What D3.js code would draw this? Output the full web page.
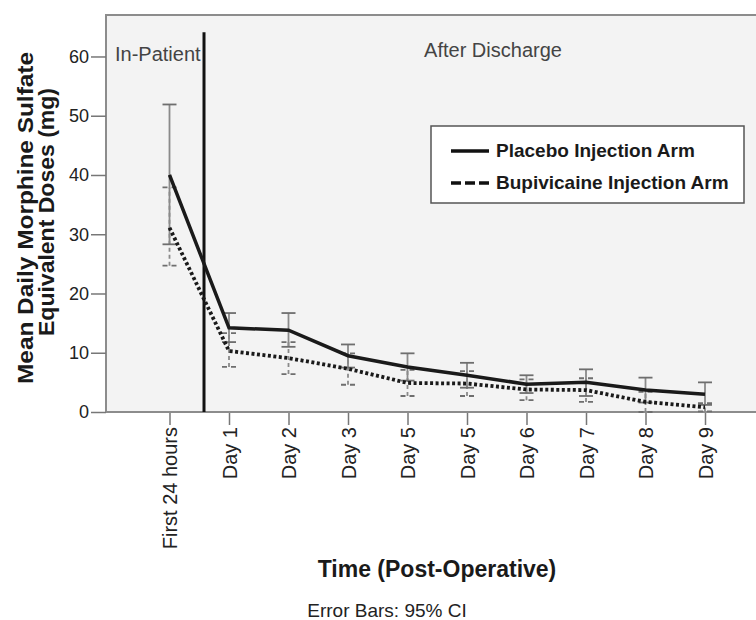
<!DOCTYPE html>
<html><head><meta charset="utf-8">
<script src="https://cdn.jsdelivr.net/npm/d3@7"></script>
<style>body{margin:0;background:#fff}</style></head>
<body><svg id="c" width="756" height="620"></svg>
<script>
const categories = ["First 24 hours","Day 1","Day 2","Day 3","Day 5","Day 5","Day 6","Day 7","Day 8","Day 9"];
const placebo   = [40.0, 14.2, 13.8, 9.5, 7.6, 6.2, 4.7, 5.0, 3.7, 3.0];
const placeboLo = [28.3, 11.8, 11.0, 7.5, 5.3, 4.1, 3.2, 2.7, 1.6, 1.2];
const placeboHi = [51.9, 16.7, 16.7, 11.4, 9.9, 8.3, 6.2, 7.2, 5.8, 5.0];
const bupi      = [31.1, 10.3, 9.1, 7.3, 4.9, 4.8, 3.8, 3.7, 1.7, 0.8];
const bupiLo    = [24.7, 7.6, 6.4, 4.6, 2.7, 2.7, 2.0, 1.7, 0.0, 0.1];
const bupiHi    = [37.9, 13.3, 11.8, 9.9, 7.1, 6.9, 5.5, 5.7, 3.4, 1.5];
const yTicks = [0, 10, 20, 30, 40, 50, 60];
const seriesNames = ["Placebo Injection Arm", "Bupivicaine Injection Arm"];
const separatorAt = 0.58; // category-index position of the In-Patient / After Discharge divider

(function () {
const font = "'Liberation Sans', Arial, Helvetica, sans-serif";
const svg = d3.select("#c").style("font-family", font);

const x = d3.scalePoint().domain(d3.range(categories.length)).range([169.5, 705]);
const y = d3.scaleLinear().domain([0, 67]).range([412, 15]);
const plotLeft = 106, plotTop = y.range()[1], plotBottom = y.range()[0];

// plot background
svg.append("rect").attr("x", plotLeft).attr("y", plotTop).attr("width", 700).attr("height", plotBottom - plotTop)
  .attr("fill", "#f3f3f3").attr("stroke", "#8c8c8c").attr("stroke-width", 2);

// y axis
const gy = svg.append("g").attr("transform", `translate(${plotLeft},0)`)
  .call(d3.axisLeft(y).tickValues(yTicks).tickSize(15).tickPadding(2));
gy.select(".domain").remove();
gy.selectAll(".tick line").attr("stroke", "#777").attr("stroke-width", 1.5);
gy.selectAll(".tick text").attr("font-size", 18).attr("fill", "#222").attr("font-family", font);

// x axis
const gx = svg.append("g").attr("transform", `translate(0,${plotBottom})`)
  .call(d3.axisBottom(x).tickFormat(i => categories[i]).tickSize(13).tickPadding(2));
gx.select(".domain").remove();
gx.selectAll(".tick line").attr("stroke", "#777").attr("stroke-width", 1.5);
gx.selectAll(".tick text").attr("font-size", 20).attr("fill", "#222").attr("font-family", font)
  .attr("transform", "rotate(-90)").attr("x", -15).attr("y", 0).attr("dy", "0.35em")
  .attr("text-anchor", "end");

// x axis baseline
svg.append("line").attr("x1", plotLeft).attr("x2", 756).attr("y1", plotBottom).attr("y2", plotBottom)
  .attr("stroke", "#8c8c8c").attr("stroke-width", 2);

// error bars
function errorBars(lo, hi, dash, cls) {
  const g = svg.append("g").attr("class", cls).attr("stroke", "#8a8a8a").attr("stroke-width", 1.8)
    .attr("fill", "none");
  lo.forEach((l, i) => {
    const cx = x(i);
    g.append("line").attr("x1", cx).attr("x2", cx).attr("y1", y(l)).attr("y2", y(hi[i]))
      .attr("stroke-dasharray", dash);
    [l, hi[i]].forEach(v => {
      g.append("line").attr("x1", cx - 7).attr("x2", cx + 7).attr("y1", y(v)).attr("y2", y(v))
        .attr("stroke-dasharray", dash ? "5,4" : null).attr("stroke", "#6e6e6e");
    });
  });
}
errorBars(bupiLo, bupiHi, "4,3", "eb-bupi");
errorBars(placeboLo, placeboHi, null, "eb-placebo");

// separator
const sx = x(0) + separatorAt * x.step();
svg.append("line").attr("x1", sx).attr("x2", sx).attr("y1", y(64.1)).attr("y2", y(0))
  .attr("stroke", "#111").attr("stroke-width", 3);

// lines
const line = d3.line().x((d, i) => x(i)).y(d => y(d));
svg.append("path").datum(bupi).attr("d", line).attr("fill", "none")
  .attr("stroke", "#1a1a1a").attr("stroke-width", 3.8).attr("stroke-dasharray", "3,2.5");
svg.append("path").datum(placebo).attr("d", line).attr("fill", "none")
  .attr("stroke", "#1a1a1a").attr("stroke-width", 3.5);

// region labels
svg.append("text").attr("x", 115).attr("y", 61).attr("font-size", 20).attr("fill", "#444")
  .text("In-Patient");
svg.append("text").attr("x", 493).attr("y", 57).attr("font-size", 20).attr("fill", "#444")
  .attr("text-anchor", "middle").text("After Discharge");

// legend
const lg = svg.append("g");
lg.append("rect").attr("x", 431).attr("y", 126).attr("width", 313).attr("height", 77)
  .attr("fill", "#fff").attr("stroke", "#555").attr("stroke-width", 1.5);
[[151, null, 3.5], [183, "10,4", 3.5]].forEach((s, k) => {
  lg.append("line").attr("x1", 451).attr("x2", 489).attr("y1", s[0]).attr("y2", s[0])
    .attr("stroke", "#111").attr("stroke-width", s[2]).attr("stroke-dasharray", s[1]);
  lg.append("text").attr("x", 496).attr("y", s[0] + 6).attr("font-size", 19).attr("font-weight", "bold")
    .attr("fill", "#1a1a1a").text(seriesNames[k]);
});

// axis titles
svg.append("text").attr("transform", "translate(33,218) rotate(-90)")
  .attr("text-anchor", "middle").attr("font-size", 21.5).attr("font-weight", "bold").attr("fill", "#1a1a1a")
  .attr("textLength", 332).attr("lengthAdjust", "spacingAndGlyphs")
  .text("Mean Daily Morphine Sulfate");
svg.append("text").attr("transform", "translate(53.5,212) rotate(-90)")
  .attr("text-anchor", "middle").attr("font-size", 21.5).attr("font-weight", "bold").attr("fill", "#1a1a1a")
  .attr("textLength", 248).attr("lengthAdjust", "spacingAndGlyphs")
  .text("Equivalent Doses (mg)");
svg.append("text").attr("x", 437).attr("y", 577).attr("text-anchor", "middle")
  .attr("font-size", 23).attr("font-weight", "bold").attr("fill", "#1a1a1a")
  .text("Time (Post-Operative)");
svg.append("text").attr("x", 387).attr("y", 617).attr("text-anchor", "middle")
  .attr("font-size", 19).attr("fill", "#222")
  .text("Error Bars: 95% CI");
})();
</script></body></html>
